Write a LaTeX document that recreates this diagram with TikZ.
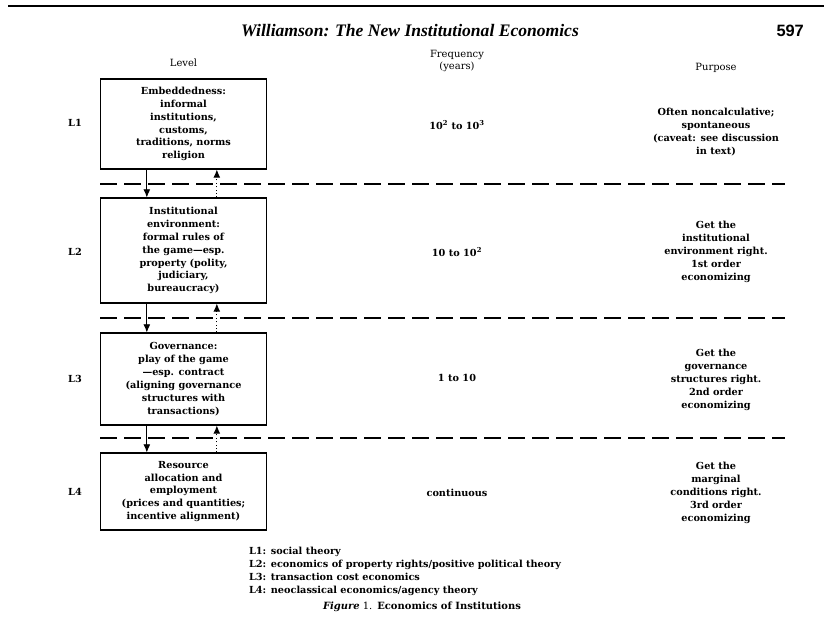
\documentclass[tikz,border=0pt]{standalone}
\usepackage{fontspec}
\usepackage{tikz}
\usetikzlibrary{arrows.meta, positioning}
\setmainfont{DejaVu Serif}
\newfontfamily\headfont{Liberation Serif}
\newfontfamily\pagefont{Liberation Sans}

\begin{document}
\begin{tikzpicture}[x=0.03cm, y=-0.03cm,
    levelbox/.style={draw, line width=0.9pt, minimum width=5cm, align=center, inner sep=2pt,
      font=\fontsize{8.3}{11}\selectfont\bfseries},
    sidetext/.style={align=center, font=\fontsize{8.3}{11}\selectfont\bfseries},
    colhead/.style={align=center, font=\fontsize{8.5}{11}\selectfont},
    divider/.style={line width=1pt, dash pattern=on 0.5cm off 0.22cm},
    downarrow/.style={-{Latex[length=7pt,width=6pt]}, line width=0.8pt},
    uparrow/.style={-{Latex[length=7pt,width=6pt]}, line width=0.9pt, dotted}]
  \useasboundingbox (0,0) rectangle (824,620);

  % running head
  \draw[line width=1.1pt] (8,6) -- (824,6);
  \node (head) at (410,31)
    {\fontsize{15}{15}\selectfont\headfont\bfseries\itshape Williamson: The New Institutional Economics};
  \node[anchor=east] (pageno) at (808,31) {\fontsize{14}{14}\selectfont\pagefont\bfseries 597};

  % column heads
  \node[colhead] (hlevel) at (183.5,63) {Level};
  \node[colhead] (hfreq) at (457,61) {Frequency\\(years)};
  \node[colhead] (hpurp) at (716,68) {Purpose};

  % level boxes
  \node[levelbox, minimum height=2.7cm] (l1) at (183.5,124)
    {Embeddedness:\\informal\\institutions,\\customs,\\traditions, norms\\religion};
  \node[levelbox, minimum height=3.15cm] (l2) at (183.5,250.5)
    {Institutional\\environment:\\formal rules of\\the game---esp.\\property (polity,\\judiciary,\\bureaucracy)};
  \node[levelbox, minimum height=2.76cm] (l3) at (183.5,379)
    {Governance:\\play of the game\\---esp. contract\\(aligning governance\\structures with\\transactions)};
  \node[levelbox, minimum height=2.31cm] (l4) at (183.5,491.5)
    {Resource\\allocation and\\employment\\(prices and quantities;\\incentive alignment)};

  % level names
  \node[sidetext] (n1) at (75,123) {L1};
  \node[sidetext] (n2) at (75,252) {L2};
  \node[sidetext] (n3) at (75,379) {L3};
  \node[sidetext] (n4) at (75,492) {L4};

  % frequency
  \node[sidetext] (f1) at (457,125) {10\textsuperscript{2} to 10\textsuperscript{3}};
  \node[sidetext] (f2) at (457,252) {10 to 10\textsuperscript{2}};
  \node[sidetext] (f3) at (457,378) {1 to 10};
  \node[sidetext] (f4) at (457,493) {continuous};

  % purpose
  \node[sidetext] (p1) at (716,132)
    {Often noncalculative;\\spontaneous\\(caveat: see discussion\\in text)};
  \node[sidetext] (p2) at (716,252)
    {Get the\\institutional\\environment right.\\1st order\\economizing};
  \node[sidetext] (p3) at (716,380)
    {Get the\\governance\\structures right.\\2nd order\\economizing};
  \node[sidetext] (p4) at (716,493)
    {Get the\\marginal\\conditions right.\\3rd order\\economizing};

  % dividers
  \draw[divider] (100,184) -- (785,184);
  \draw[divider] (100,318) -- (785,318);
  \draw[divider] (100,438) -- (785,438);

  % arrows between levels
  \draw[downarrow] ([xshift=-1.1cm]l1.south) -- ([xshift=-1.1cm]l2.north);
  \draw[downarrow] ([xshift=-1.1cm]l2.south) -- ([xshift=-1.1cm]l3.north);
  \draw[downarrow] ([xshift=-1.1cm]l3.south) -- ([xshift=-1.1cm]l4.north);
  \draw[uparrow] ([xshift=1cm]l2.north) -- ([xshift=1cm]l1.south);
  \draw[uparrow] ([xshift=1cm]l3.north) -- ([xshift=1cm]l2.south);
  \draw[uparrow] ([xshift=1cm]l4.north) -- ([xshift=1cm]l3.south);

  % key and caption
  \node[anchor=north west, align=left, font=\fontsize{8.3}{11}\selectfont\bfseries] (key) at (245,543)
    {L1: social theory\\
     L2: economics of property rights/positive political theory\\
     L3: transaction cost economics\\
     L4: neoclassical economics/agency theory};
  \node[font=\fontsize{8.5}{11}\selectfont] (caption) at (422,607)
    {\textbf{\textit{Figure}} 1.\enspace\textbf{Economics of Institutions}};
\end{tikzpicture}
\end{document}
